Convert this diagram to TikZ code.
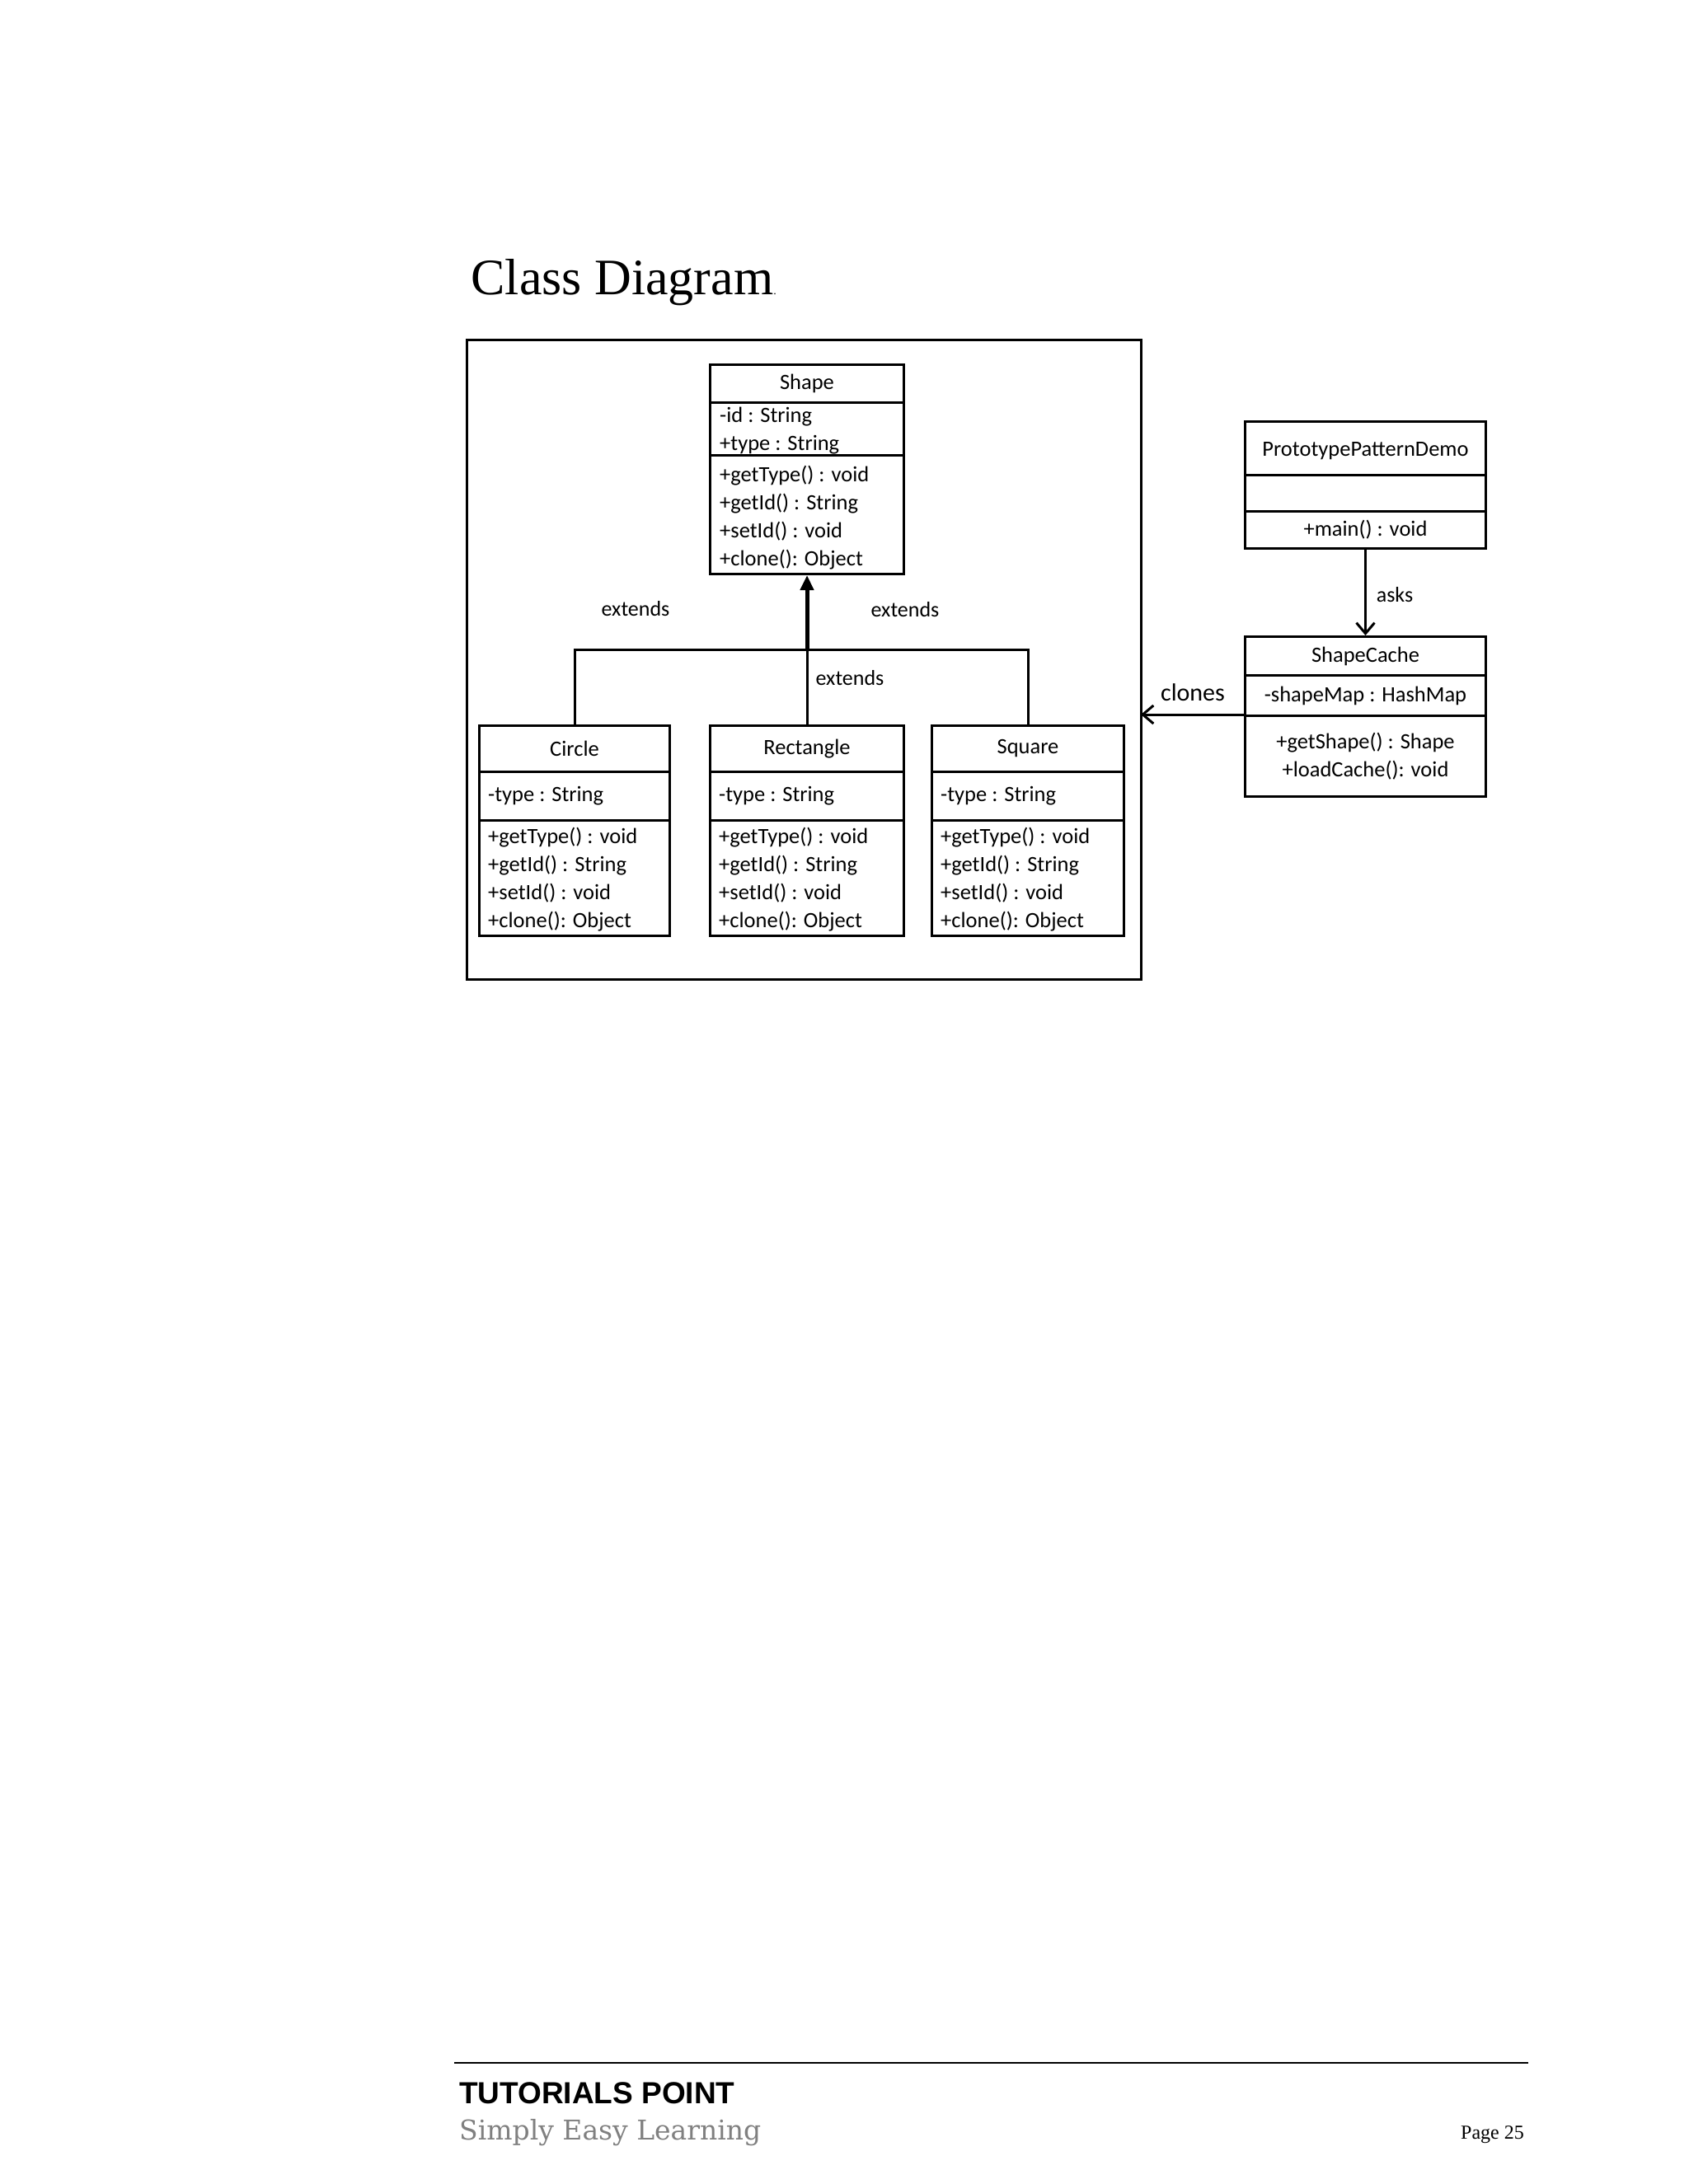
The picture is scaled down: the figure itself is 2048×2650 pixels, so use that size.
\documentclass[tikz,border=0pt]{standalone}
\usepackage{fontspec}
\setmainfont{Carlito}
\newfontfamily\titlefont{Liberation Serif}
\newfontfamily\footsans{Liberation Sans}
\newfontfamily\footserif{DejaVu Serif}
\usetikzlibrary{arrows.meta}
\begin{document}
\begin{tikzpicture}[x=1pt,y=-1pt,
  cell/.style={draw,line width=3pt,anchor=north west,inner sep=0pt},
  txt/.style={font=\fontsize{26.5}{34}\selectfont},
  ltxt/.style={anchor=north west,align=left,inner sep=0pt,font=\fontsize{26.5}{34}\selectfont},
  conn/.style={line width=3pt},
  lbl/.style={font=\fontsize{26}{28}\selectfont}]
\useasboundingbox (0,0) rectangle (2048,2650);
\fill[white] (0,0) rectangle (2048,2650);
\node[anchor=west,font=\titlefont\fontsize{62}{70}\selectfont] (title) at (568,343) {Class Diagram\raisebox{0pt}{\fontsize{14}{14}\selectfont.}};
\draw[line width=3pt] (566,412) rectangle (1384,1188);
\coordinate (frameR) at (1384,867);
% Shape
\node[cell,minimum width=235,minimum height=46] (shapeT) at (860,441) {};
\node[txt] at (shapeT.center) {Shape};
\node[cell,minimum width=235,minimum height=64] (shapeA) at (860,487) {};
\node[ltxt] at (873,494) {-id : String\\+type : String};
\node[cell,minimum width=235,minimum height=144] (shapeM) at (860,551) {};
\node[ltxt] at (873,565) {+getType() : void\\+getId() : String\\+setId() : void\\+clone(): Object};
% children
\foreach \nm/\lab/\x/\w in {circle/Circle/580/231, rect/Rectangle/860/235, square/Square/1129/233}{
 \node[cell,minimum width=\w,minimum height=56] (\nm T) at (\x,879) {};
 \node[txt] at (\nm T.center) {\lab};
 \node[cell,minimum width=\w,minimum height=59] (\nm A) at (\x,935) {};
 \node[anchor=west,inner sep=0pt,txt] at (\x+12,966) {-type : String};
 \node[cell,minimum width=\w,minimum height=140] (\nm M) at (\x,994) {};
 \node[ltxt] at (\x+12,1004) {+getType() : void\\+getId() : String\\+setId() : void\\+clone(): Object};
}
\coordinate (barL) at (circleT.north |- 0,788);
\coordinate (barR) at (squareT.north |- 0,788);
\coordinate (barM) at (shapeM.south |- 0,788);
\draw[conn] (circleT.north) -- (barL) -- (barR) -- (squareT.north);
\draw[conn] (rectT.north) -- (barM);
\draw[line width=5pt,-{Triangle[length=18pt,width=16pt]}] (barM) -- (shapeM.south);
\node[lbl] (e1) at (771,739) {extends};
\node[lbl] (e2) at (1098,740) {extends};
\node[lbl] (e3) at (1031,823) {extends};
% PrototypePatternDemo
\node[cell,minimum width=292,minimum height=65] (ppdT) at (1509,510) {};
\node[txt] at ([yshift=-3pt]ppdT.center) {PrototypePatternDemo};
\node[cell,minimum width=292,minimum height=44] (ppdA) at (1509,575) {};
\node[cell,minimum width=292,minimum height=45] (ppdM) at (1509,619) {};
\node[txt] at (ppdM.center) {+main() : void};
% ShapeCache
\node[cell,minimum width=292,minimum height=47] (scT) at (1509,771) {};
\node[txt] at (scT.center) {ShapeCache};
\node[cell,minimum width=292,minimum height=49] (scA) at (1509,818) {};
\node[txt] at (scA.center) {-shapeMap : HashMap};
\node[cell,minimum width=292,minimum height=98] (scM) at (1509,867) {};
\node[align=center,txt] at (scM.center) {+getShape() : Shape\\+loadCache(): void};
\draw[conn,-{Straight Barb[length=13pt,width=22pt]}] (ppdM.south) -- (scT.north);
\node[lbl] (asks) at (1692,722) {asks};
\draw[conn,-{Straight Barb[length=13pt,width=22pt]}] (scM.north west) -- (frameR);
\node[font=\fontsize{30}{32}\selectfont] (clones) at (1447,840) {clones};
% footer
\draw[line width=2pt] (551,2503) -- (1854,2503);
\node[anchor=west,inner sep=0pt,font=\footsans\bfseries\fontsize{37}{40}\selectfont] (tp) at (557,2540) {TUTORIALS POINT};
\node[anchor=west,inner sep=0pt,text=gray,font=\footserif\fontsize{33}{36}\selectfont] (sel) at (557,2588) {Simply Easy Learning};
\node[anchor=east,inner sep=0pt,font=\titlefont\fontsize{24}{26}\selectfont] (pg) at (1849,2590) {Page 25};
\end{tikzpicture}
\end{document}
